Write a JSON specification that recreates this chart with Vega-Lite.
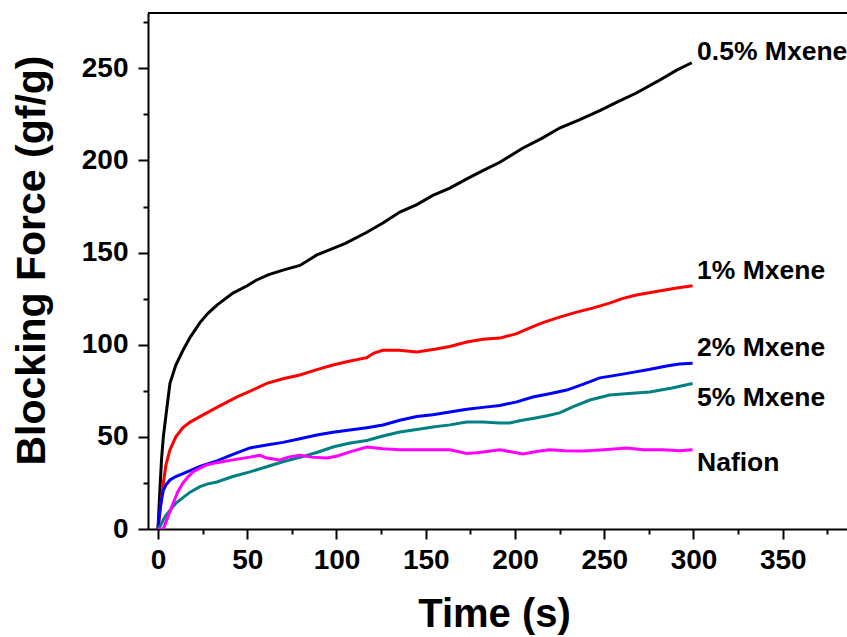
{
  "$schema": "https://vega.github.io/schema/vega-lite/v6.json",
  "width": 699,
  "height": 516,
  "autosize": {"type": "none"},
  "padding": {"left": 148, "top": 13, "right": 0, "bottom": 108},
  "background": "white",
  "config": {"view": {"stroke": null}, "font": "Liberation Sans"},
  "datasets": {
    "curves": [
      {"s":"0.5% Mxene","t":0,"v":0},{"s":"0.5% Mxene","t":1,"v":20},{"s":"0.5% Mxene","t":2,"v":38},{"s":"0.5% Mxene","t":3,"v":50},{"s":"0.5% Mxene","t":4.5,"v":62},{"s":"0.5% Mxene","t":6.7,"v":79},{"s":"0.5% Mxene","t":10,"v":89},{"s":"0.5% Mxene","t":14,"v":97},{"s":"0.5% Mxene","t":18,"v":104},{"s":"0.5% Mxene","t":23.5,"v":112},{"s":"0.5% Mxene","t":28,"v":117},{"s":"0.5% Mxene","t":33,"v":121.5},{"s":"0.5% Mxene","t":42,"v":128},{"s":"0.5% Mxene","t":50,"v":132},{"s":"0.5% Mxene","t":55,"v":135},{"s":"0.5% Mxene","t":62,"v":138},{"s":"0.5% Mxene","t":70,"v":140.5},{"s":"0.5% Mxene","t":79.5,"v":143},{"s":"0.5% Mxene","t":89,"v":148.7},{"s":"0.5% Mxene","t":95,"v":151},{"s":"0.5% Mxene","t":105,"v":155},{"s":"0.5% Mxene","t":117,"v":161},{"s":"0.5% Mxene","t":126,"v":166},{"s":"0.5% Mxene","t":135.5,"v":172},{"s":"0.5% Mxene","t":145,"v":176},{"s":"0.5% Mxene","t":154,"v":181},{"s":"0.5% Mxene","t":163.5,"v":185},{"s":"0.5% Mxene","t":173,"v":190},{"s":"0.5% Mxene","t":182,"v":194.5},{"s":"0.5% Mxene","t":191.5,"v":199},{"s":"0.5% Mxene","t":204,"v":206.5},{"s":"0.5% Mxene","t":215,"v":212},{"s":"0.5% Mxene","t":225,"v":217.6},{"s":"0.5% Mxene","t":236,"v":222},{"s":"0.5% Mxene","t":247.5,"v":227},{"s":"0.5% Mxene","t":258,"v":232},{"s":"0.5% Mxene","t":268,"v":236.6},{"s":"0.5% Mxene","t":280,"v":243},{"s":"0.5% Mxene","t":290.6,"v":249},{"s":"0.5% Mxene","t":299,"v":253},
      {"s":"1% Mxene","t":0,"v":0},{"s":"1% Mxene","t":1,"v":8},{"s":"1% Mxene","t":2,"v":17},{"s":"1% Mxene","t":3,"v":25},{"s":"1% Mxene","t":4.5,"v":35},{"s":"1% Mxene","t":6.7,"v":43},{"s":"1% Mxene","t":10,"v":50},{"s":"1% Mxene","t":14,"v":55},{"s":"1% Mxene","t":18,"v":58},{"s":"1% Mxene","t":23.5,"v":61},{"s":"1% Mxene","t":33,"v":66},{"s":"1% Mxene","t":44,"v":71.6},{"s":"1% Mxene","t":52,"v":75},{"s":"1% Mxene","t":61,"v":79},{"s":"1% Mxene","t":70,"v":81.5},{"s":"1% Mxene","t":79.5,"v":83.6},{"s":"1% Mxene","t":89,"v":86.5},{"s":"1% Mxene","t":98,"v":89},{"s":"1% Mxene","t":107,"v":91},{"s":"1% Mxene","t":117,"v":93},{"s":"1% Mxene","t":121,"v":95.5},{"s":"1% Mxene","t":126,"v":97},{"s":"1% Mxene","t":135,"v":97},{"s":"1% Mxene","t":145,"v":96},{"s":"1% Mxene","t":155,"v":97.5},{"s":"1% Mxene","t":163.5,"v":99},{"s":"1% Mxene","t":173,"v":101.5},{"s":"1% Mxene","t":182,"v":103},{"s":"1% Mxene","t":191.5,"v":103.6},{"s":"1% Mxene","t":201,"v":106},{"s":"1% Mxene","t":208,"v":109},{"s":"1% Mxene","t":215.6,"v":112},{"s":"1% Mxene","t":225,"v":115},{"s":"1% Mxene","t":234.6,"v":117.7},{"s":"1% Mxene","t":244,"v":120},{"s":"1% Mxene","t":253,"v":122.6},{"s":"1% Mxene","t":260,"v":125},{"s":"1% Mxene","t":268,"v":127},{"s":"1% Mxene","t":280,"v":129},{"s":"1% Mxene","t":290.6,"v":130.8},{"s":"1% Mxene","t":299.5,"v":132},
      {"s":"2% Mxene","t":0,"v":0},{"s":"2% Mxene","t":1,"v":10},{"s":"2% Mxene","t":2,"v":16},{"s":"2% Mxene","t":3,"v":21},{"s":"2% Mxene","t":4.5,"v":24},{"s":"2% Mxene","t":6.7,"v":26.6},{"s":"2% Mxene","t":10,"v":28.5},{"s":"2% Mxene","t":14,"v":30},{"s":"2% Mxene","t":23.5,"v":34},{"s":"2% Mxene","t":33,"v":37},{"s":"2% Mxene","t":42,"v":40.5},{"s":"2% Mxene","t":51.5,"v":44},{"s":"2% Mxene","t":60,"v":45.5},{"s":"2% Mxene","t":70,"v":47},{"s":"2% Mxene","t":79.5,"v":49},{"s":"2% Mxene","t":89,"v":51},{"s":"2% Mxene","t":98,"v":52.5},{"s":"2% Mxene","t":107.5,"v":53.7},{"s":"2% Mxene","t":117,"v":55},{"s":"2% Mxene","t":126,"v":56.4},{"s":"2% Mxene","t":135.5,"v":59},{"s":"2% Mxene","t":145,"v":61},{"s":"2% Mxene","t":154,"v":62},{"s":"2% Mxene","t":163.5,"v":63.5},{"s":"2% Mxene","t":173,"v":65},{"s":"2% Mxene","t":182,"v":66},{"s":"2% Mxene","t":191.5,"v":67},{"s":"2% Mxene","t":201,"v":69},{"s":"2% Mxene","t":210,"v":71.6},{"s":"2% Mxene","t":220,"v":73.5},{"s":"2% Mxene","t":229,"v":75.4},{"s":"2% Mxene","t":238,"v":78.5},{"s":"2% Mxene","t":247.5,"v":82},{"s":"2% Mxene","t":257,"v":83.5},{"s":"2% Mxene","t":266,"v":85},{"s":"2% Mxene","t":275,"v":86.5},{"s":"2% Mxene","t":285,"v":88.4},{"s":"2% Mxene","t":292,"v":89.5},{"s":"2% Mxene","t":299.5,"v":90},
      {"s":"5% Mxene","t":0,"v":0},{"s":"5% Mxene","t":1.5,"v":2},{"s":"5% Mxene","t":3,"v":5},{"s":"5% Mxene","t":4.5,"v":7.5},{"s":"5% Mxene","t":6.7,"v":10},{"s":"5% Mxene","t":10,"v":14},{"s":"5% Mxene","t":14,"v":17},{"s":"5% Mxene","t":18,"v":20},{"s":"5% Mxene","t":23.5,"v":23},{"s":"5% Mxene","t":28,"v":24.5},{"s":"5% Mxene","t":33,"v":25.5},{"s":"5% Mxene","t":42,"v":28.5},{"s":"5% Mxene","t":51.5,"v":31},{"s":"5% Mxene","t":60,"v":33.5},{"s":"5% Mxene","t":70,"v":36.5},{"s":"5% Mxene","t":80,"v":39},{"s":"5% Mxene","t":89,"v":41.5},{"s":"5% Mxene","t":98,"v":44.5},{"s":"5% Mxene","t":107,"v":46.5},{"s":"5% Mxene","t":117,"v":48},{"s":"5% Mxene","t":126,"v":50.5},{"s":"5% Mxene","t":135.5,"v":52.6},{"s":"5% Mxene","t":145,"v":54},{"s":"5% Mxene","t":154,"v":55.3},{"s":"5% Mxene","t":163.5,"v":56.5},{"s":"5% Mxene","t":173,"v":58},{"s":"5% Mxene","t":182,"v":58},{"s":"5% Mxene","t":191.5,"v":57.5},{"s":"5% Mxene","t":197,"v":57.5},{"s":"5% Mxene","t":204,"v":59},{"s":"5% Mxene","t":210,"v":60},{"s":"5% Mxene","t":218,"v":61.5},{"s":"5% Mxene","t":225,"v":63},{"s":"5% Mxene","t":233,"v":66.5},{"s":"5% Mxene","t":242,"v":70},{"s":"5% Mxene","t":253,"v":72.7},{"s":"5% Mxene","t":264,"v":73.5},{"s":"5% Mxene","t":275.5,"v":74.3},{"s":"5% Mxene","t":288,"v":76.5},{"s":"5% Mxene","t":299.5,"v":79},
      {"s":"Nafion","t":0,"v":0},{"s":"Nafion","t":3,"v":0},{"s":"Nafion","t":4.5,"v":4},{"s":"Nafion","t":6.5,"v":9},{"s":"Nafion","t":8.5,"v":14},{"s":"Nafion","t":11,"v":20},{"s":"Nafion","t":14,"v":25},{"s":"Nafion","t":17,"v":28.5},{"s":"Nafion","t":19.6,"v":31},{"s":"Nafion","t":23.5,"v":33},{"s":"Nafion","t":27,"v":34.7},{"s":"Nafion","t":33,"v":36},{"s":"Nafion","t":42,"v":37.5},{"s":"Nafion","t":51.5,"v":39},{"s":"Nafion","t":57,"v":40},{"s":"Nafion","t":61,"v":38.5},{"s":"Nafion","t":68,"v":37.4},{"s":"Nafion","t":73,"v":39},{"s":"Nafion","t":79.5,"v":40},{"s":"Nafion","t":86,"v":39},{"s":"Nafion","t":94.6,"v":38.5},{"s":"Nafion","t":100,"v":39.5},{"s":"Nafion","t":108,"v":42},{"s":"Nafion","t":117,"v":44.5},{"s":"Nafion","t":126,"v":43.5},{"s":"Nafion","t":135.5,"v":43},{"s":"Nafion","t":145,"v":43},{"s":"Nafion","t":154,"v":43},{"s":"Nafion","t":163.5,"v":43},{"s":"Nafion","t":173,"v":41},{"s":"Nafion","t":180,"v":41.5},{"s":"Nafion","t":191.5,"v":43},{"s":"Nafion","t":204.5,"v":40.7},{"s":"Nafion","t":212,"v":42},{"s":"Nafion","t":219.5,"v":43},{"s":"Nafion","t":228,"v":42.5},{"s":"Nafion","t":238,"v":42.3},{"s":"Nafion","t":250,"v":43},{"s":"Nafion","t":262.6,"v":44},{"s":"Nafion","t":272,"v":43},{"s":"Nafion","t":283,"v":43},{"s":"Nafion","t":292,"v":42.5},{"s":"Nafion","t":299.5,"v":43}
    ],
    "labels": [
      {"label":"0.5% Mxene","t":302,"v":258.7},
      {"label":"1% Mxene","t":302,"v":140},
      {"label":"2% Mxene","t":302,"v":98},
      {"label":"5% Mxene","t":302,"v":71},
      {"label":"Nafion","t":302,"v":36}
    ],
    "border": [
      {"t": -5.6, "v": 280},
      {"t": 386, "v": 280}
    ]
  },
  "layer": [
    {
      "data": {"name": "curves"},
      "mark": {"type": "line", "strokeWidth": 3, "clip": true},
      "encoding": {
        "x": {
          "field": "t", "type": "quantitative",
          "scale": {"domain": [-5.6, 386], "nice": false, "zero": false},
          "axis": {
            "values": [0,25,50,75,100,125,150,175,200,225,250,275,300,325,350,375],
            "labelExpr": "datum.value % 50 === 0 ? datum.label : ''",
            "tickSize": {"condition": {"test": "datum.value % 50 === 0", "value": 10}, "value": 5},
            "tickWidth": 2, "tickColor": "black",
            "domainColor": "black", "domainWidth": 2,
            "grid": false,
            "labelFont": "Liberation Sans", "labelFontSize": 28, "labelFontWeight": "bold", "labelColor": "black",
            "labelFlush": false, "labelOverlap": false, "labelPadding": 7,
            "title": "Time (s)",
            "titleFont": "Liberation Sans", "titleFontSize": 40, "titleFontWeight": "bold", "titleColor": "black",
            "titleX": 346, "titleY": 97, "titleAlign": "center", "titleBaseline": "alphabetic"
          }
        },
        "y": {
          "field": "v", "type": "quantitative",
          "scale": {"domain": [0, 280], "nice": false},
          "axis": {
            "values": [0,25,50,75,100,125,150,175,200,225,250,275],
            "labelExpr": "datum.value % 50 === 0 ? datum.label : ''",
            "tickSize": {"condition": {"test": "datum.value % 50 === 0", "value": 10}, "value": 5},
            "tickWidth": 2, "tickColor": "black",
            "domainColor": "black", "domainWidth": 2,
            "grid": false,
            "labelFont": "Liberation Sans", "labelFontSize": 28, "labelFontWeight": "bold", "labelColor": "black",
            "labelFlush": false, "labelOverlap": false, "labelPadding": 10,
            "title": "Blocking Force (gf/g)",
            "titleFont": "Liberation Sans", "titleFontSize": 41, "titleFontWeight": "bold", "titleColor": "black",
            "titleX": -104, "titleY": 247, "titleAngle": -90, "titleAlign": "center", "titleBaseline": "alphabetic"
          }
        },
        "color": {
          "field": "s", "type": "nominal",
          "scale": {"domain": ["0.5% Mxene","1% Mxene","2% Mxene","5% Mxene","Nafion"], "range": ["#000000","#FF0000","#0000FF","#008080","#FF00FF"]},
          "legend": null
        }
      }
    },
    {
      "data": {"name": "border"},
      "mark": {"type": "line", "strokeWidth": 2, "color": "black", "clip": false},
      "encoding": {
        "x": {"field": "t", "type": "quantitative"},
        "y": {"field": "v", "type": "quantitative"}
      }
    },
    {
      "data": {"name": "labels"},
      "mark": {"type": "text", "align": "left", "baseline": "middle", "font": "Liberation Sans", "fontSize": 26.5, "fontWeight": "bold", "color": "black"},
      "encoding": {
        "x": {"field": "t", "type": "quantitative"},
        "y": {"field": "v", "type": "quantitative"},
        "text": {"field": "label"}
      }
    }
  ]
}
